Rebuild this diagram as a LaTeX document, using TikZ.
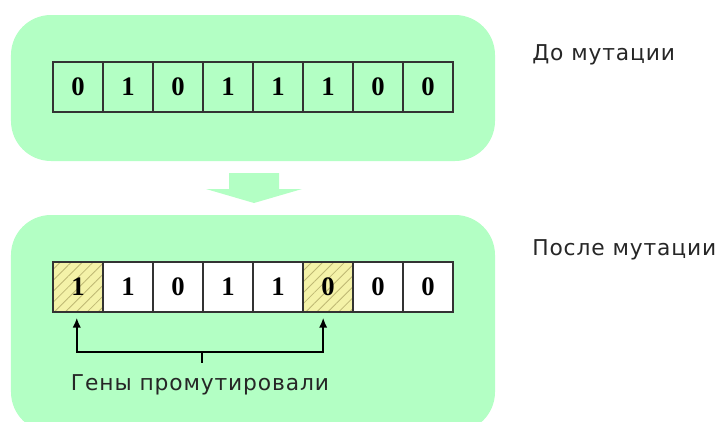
\documentclass[tikz,border=0pt]{standalone}
\usepackage{fontspec}
\usepackage{xcolor}
\usepackage{tikz}
\usetikzlibrary{positioning, arrows.meta, patterns.meta}

\newfontfamily\cellfont{Liberation Serif}
\newfontfamily\labelfont[LetterSpace=4]{DejaVu Sans}

\definecolor{panelgreen}{RGB}{179,255,196}
\definecolor{gridgray}{RGB}{51,51,51}
\definecolor{hatchyellow}{RGB}{244,242,168}
\definecolor{hatchline}{RGB}{190,184,116}

\begin{document}
\begin{tikzpicture}[
        % one gene of the chromosome
        cell/.style={
            draw=gridgray,
            line width=1.4pt,
            minimum size=1.25cm,
            anchor=south west,
            inner sep=0pt,
            font=\cellfont\bfseries\fontsize{19}{19}\selectfont
        },
        newcell/.style={cell, fill=white},
        % mutated gene
        stripes/.style={
            pattern={Lines[angle=45,distance=5.5pt,line width=0.6pt]},
            pattern color=hatchline
        },
        hatched/.style={preaction={fill=hatchyellow}, stripes},
        panel/.style={fill=panelgreen, draw=none, rounded corners=1cm},
        caption/.style={font=\labelfont\fontsize{15.5}{15.5}\selectfont, text=black!85, inner sep=0pt},
        pointer/.style={draw=black, line width=1.2pt, -{Latex[length=7pt,width=6pt]}}
    ]

    \useasboundingbox (0,0) rectangle (18,10.525);
    \clip (0,0) rectangle (18,10.525);
    % declare the stripe pattern once, before any node uses it
    \path[stripes] (0,0) rectangle (0,0);

    % ==========================================
    % BEFORE MUTATION
    % ==========================================

    % Background panel
    \path[panel] (0.275,6.5) rectangle (12.375,10.15);

    % Chromosome (8 genes)
    \node[cell] (pre_1) at (1.3,7.7) {0};
    \node[cell] (pre_2) at (2.55,7.7) {1};
    \node[cell] (pre_3) at (3.8,7.7) {0};
    \node[cell] (pre_4) at (5.05,7.7) {1};
    \node[cell] (pre_5) at (6.3,7.7) {1};
    \node[cell] (pre_6) at (7.55,7.7) {1};
    \node[cell] (pre_7) at (8.8,7.7) {0};
    \node[cell] (pre_8) at (10.05,7.7) {0};

    % Label
    \node[caption, anchor=west] (label_pre) at (13.3,9.15) {До мутации};

    % ==========================================
    % BLOCK ARROW
    % ==========================================
    \fill[panelgreen] (5.725,6.2) -- (6.975,6.2) -- (6.975,5.8) -- (7.55,5.8)
        -- (6.35,5.45) -- (5.15,5.8) -- (5.725,5.8) -- cycle;

    % ==========================================
    % AFTER MUTATION
    % ==========================================

    % Background panel
    \path[panel] (0.275,-0.275) rectangle (12.375,5.15);

    % Chromosome (8 genes, two of them flipped)
    \node[newcell, hatched] (post_1) at (1.3,2.7) {1};
    \node[newcell] (post_2) at (2.55,2.7) {1};
    \node[newcell] (post_3) at (3.8,2.7) {0};
    \node[newcell] (post_4) at (5.05,2.7) {1};
    \node[newcell] (post_5) at (6.3,2.7) {1};
    \node[newcell, hatched] (post_6) at (7.55,2.7) {0};
    \node[newcell] (post_7) at (8.8,2.7) {0};
    \node[newcell] (post_8) at (10.05,2.7) {0};

    % Label
    \node[caption, anchor=west] (label_post) at (13.3,4.275) {После мутации};

    % Bracket pointing at the mutated genes
    \coordinate (hub) at (5.05,1.725);
    \coordinate (tick) at (5.05,1.45);
    \draw[pointer] (hub) -| ([xshift=-0.03cm,yshift=-0.12cm]post_1.south);
    \draw[pointer] (hub) -| ([xshift=-0.12cm,yshift=-0.12cm]post_6.south);
    \draw[draw=black, line width=1.2pt] (hub) -- (tick);

    \node[caption] (label_genes) at (5.0,0.9) {Гены промутировали};

\end{tikzpicture}
\end{document}
